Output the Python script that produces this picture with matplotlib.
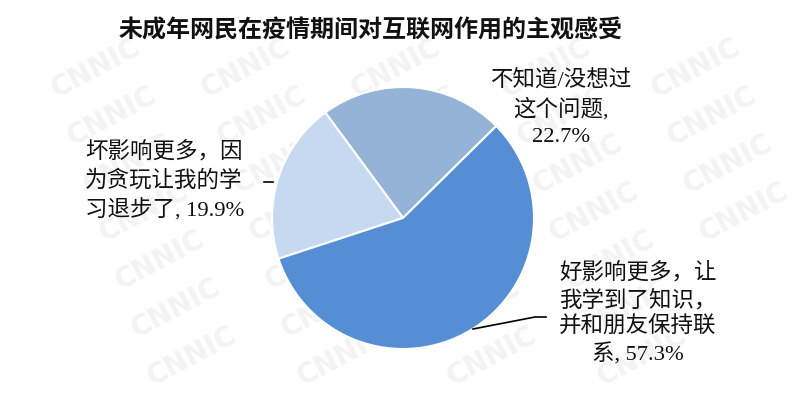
import matplotlib
matplotlib.use("Agg")
import matplotlib.pyplot as plt
from matplotlib.lines import Line2D

W, H = 795, 409

title = "未成年网民在疫情期间对互联网作用的主观感受"
categories = ["不知道/没想过这个问题", "坏影响更多，因为贪玩让我的学习退步了", "好影响更多，让我学到了知识，并和朋友保持联系"]
values = [22.7, 19.9, 57.3]
colors = ["#95B3D7", "#C6D9F1", "#558ED5"]

label_lines = [
    ["不知道/没想过", "这个问题,", "22.7%"],
    ["坏影响更多，因", "为贪玩让我的学", "习退步了, 19.9%"],
    ["好影响更多，让", "我学到了知识，", "并和朋友保持联", "系, 57.3%"],
]

plt.rcParams['font.family'] = ['Noto Sans CJK SC', 'DejaVu Sans']
fig = plt.figure(figsize=(W / 100, H / 100), dpi=100)
fig.patch.set_facecolor("white")

def fx(x):
    return x / W

def fy(y):
    return 1 - y / H

# faint watermark (kept fully inside the figure)
for r in range(-2, 10):
    for c in range(-1, 8):
        x = c * 150 + r * 16 + 80
        y = r * 48 + 20
        if 50 < x < W - 50 and 35 < y < H - 35:
            fig.text(fx(x), fy(y), "CNNIC", fontsize=20, fontweight="bold",
                     color="#f3f3f3", rotation=28, ha="center", va="center",
                     family=["DejaVu Sans"], zorder=0)

# pie
cx, cy, R = 403, 218, 131
ax = fig.add_axes([fx(cx - R), fy(cy + R), 2 * R / W, 2 * R / H])
ax.set_zorder(2)
ax.pie(values, colors=colors, startangle=44.6, counterclock=True,
       wedgeprops=dict(edgecolor="white", linewidth=1.5))
ax.set_xlim(-1, 1)
ax.set_ylim(-1, 1)
ax.set_aspect("auto")
ax.axis("off")
ax.patch.set_alpha(0)

fig.text(fx(371), fy(31), title, fontsize=17.3, fontweight="bold",
         ha="center", va="center", color="#111111", zorder=3)

lab_font = ['Liberation Serif', 'Noto Sans CJK SC']
fs = 16.2

# unknown label (centered)
for i, s in enumerate(label_lines[0]):
    fig.text(fx(561), fy(80 + i * 29), s, fontsize=fs, ha="center", va="center",
             family=lab_font, color="#111111", zorder=3)
# bad label (left aligned)
for i, s in enumerate(label_lines[1]):
    fig.text(fx(85), fy(152 + i * 29), s, fontsize=fs, ha="left", va="center",
             family=lab_font, color="#111111", zorder=3)
# good label (centered)
for i, s in enumerate(label_lines[2]):
    fig.text(fx(638), fy(273 + i * 27.3), s, fontsize=fs, ha="center", va="center",
             family=lab_font, color="#111111", zorder=3)

# leader lines
fig.add_artist(Line2D([fx(264), fx(273)], [fy(182), fy(182)], color="black", lw=1.2, zorder=3))
fig.add_artist(Line2D([fx(473), fx(535), fx(546)], [fy(329), fy(317), fy(317)],
                      color="black", lw=1.2, zorder=3))

fig.savefig("out.png", dpi=100, facecolor="white")
